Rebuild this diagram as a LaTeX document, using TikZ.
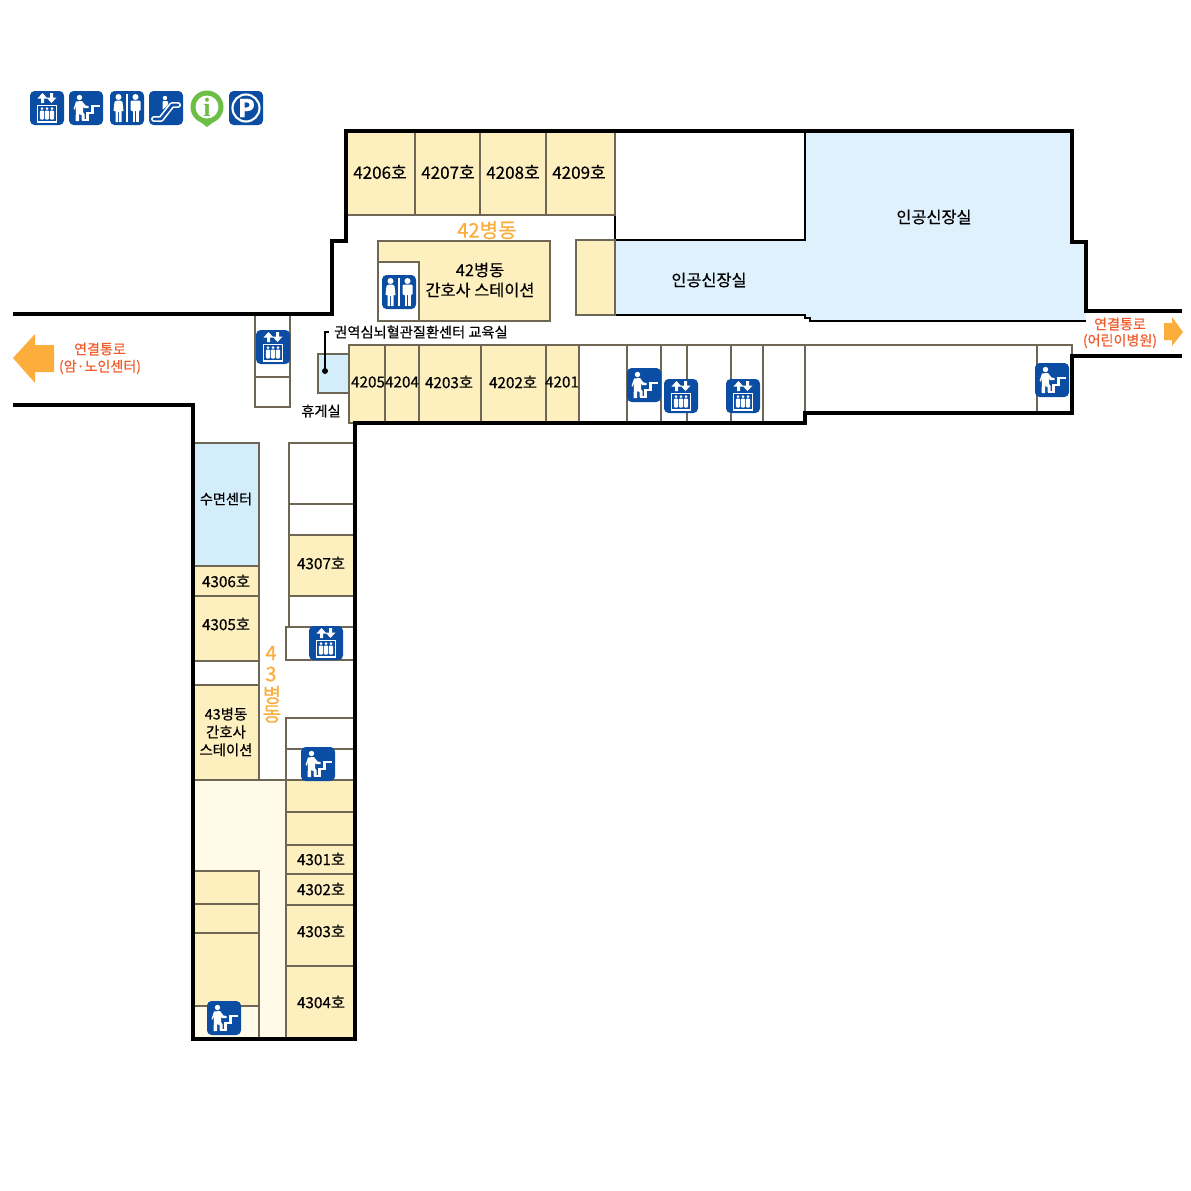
\documentclass[tikz,border=0pt]{standalone}
\usepackage{fontspec}
\setmainfont[FakeBold=0.35]{Noto Sans CJK KR}
\newfontfamily\serifi{Liberation Serif}
\usepackage{tikz}
\definecolor{wardYellow}{HTML}{FDEFBE}
\definecolor{paleYellow}{HTML}{FFFBE8}
\definecolor{dialBlue}{HTML}{DFF1FC}
\definecolor{sleepBlue}{HTML}{D3EDFB}
\definecolor{iconBlue}{HTML}{0B4DA2}
\definecolor{iconGreen}{HTML}{6CBE45}
\definecolor{wardOrange}{HTML}{FBAE3C}
\definecolor{linkRed}{HTML}{F15A29}
\definecolor{roomLine}{HTML}{6E6756}
\newcommand{\sz}[1]{\fontsize{#1}{#1}\selectfont}
\tikzset{
   iconBack/.style={fill=iconBlue, rounded corners=2.6pt},
   lean/.style={fill=white, draw=none},
   liftIcon/.pic={
        \fill[iconBack] (-17,-17) rectangle (17,17);
        \fill[lean] (-6,-5) -- (-6,-9.5) -- (-9.5,-9.5) -- (-4.5,-15) -- (0.5,-9.5) -- (-3,-9.5) -- (-3,-5) -- cycle;
        \fill[lean] (3,-15) -- (3,-10.5) -- (-0.5,-10.5) -- (4.5,-5) -- (9.5,-10.5) -- (6,-10.5) -- (6,-15) -- cycle;
        \draw[white, line width=0.9pt] (-9.5,-2.5) rectangle (9.5,14);
        \foreach \px in {-5,0,5} {
            \fill[lean] (\px,0.5) circle (1.5);
            \fill[lean, rounded corners=0.5pt] (\px-2.1,2.5) rectangle (\px+2.1,11.5);
        }
   },
   stairIcon/.pic={
        \fill[iconBack] (-17,-17) rectangle (17,17);
        \fill[lean] (-6.5,-10.5) circle (2.7);
        \fill[lean] (-12.5,1) -- (-10,-6.5) -- (-4,-7) -- (-0.5,-2.5) -- (2.5,-2) -- (2.5,0) -- (-2,0) -- (-3,-2) -- (-3,4) -- (-1.5,6) -- (-1.5,12) -- (-4.5,12) -- (-4.5,7) -- (-7,6) -- (-7,13) -- (-10.5,13) -- (-10,1) -- (-10,-2) -- (-11,1.5) -- cycle;
        \draw[white, line width=1.6pt] (-4,12) -- (1.5,12) -- (1.5,5) -- (6.5,5) -- (6.5,-2) -- (13.5,-2);
   },
   toiletIcon/.pic={
        \fill[iconBack] (-17,-17) rectangle (17,17);
        \fill[lean] (-8.5,-11) circle (3);
        \fill[lean] (-10.5,-7.5) -- (-6.5,-7.5) -- (-4.5,-6) -- (-3.5,3) -- (-5.5,3) -- (-5.5,14) -- (-8,14) -- (-8,4) -- (-9,4) -- (-9,14) -- (-11.5,14) -- (-11.5,3) -- (-13.5,3) -- (-12.5,-6) -- cycle;
        \fill[lean] (-0.6,-14) rectangle (0.6,14);
        \fill[lean] (8.5,-11) circle (3);
        \fill[lean, rounded corners=0.7pt] (3.5,-7.5) rectangle (13.5,3);
        \fill[lean] (5.5,0) rectangle (8,14);
        \fill[lean] (9,0) rectangle (11.5,14);
   },
   escalIcon/.pic={
        \fill[iconBack] (-17,-17) rectangle (17,17);
        \fill[lean] (-1,-10) circle (2.2);
        \fill[lean, rounded corners=0.5pt] (-3.5,-7) -- (2,-7) -- (2,-3) -- (-3.5,2) -- cycle;
        \draw[white, line width=3.4pt, line join=round, line cap=round] (-12,11) -- (-5,11) -- (6,-3) -- (12,-3);
        \draw[iconBlue, line width=1.5pt, line join=round, line cap=round] (-12,11) -- (-5,11) -- (6,-3) -- (12,-3);
   },
   infoIcon/.pic={
        \fill[iconGreen] (0,0) circle (16.5);
        \fill[iconGreen] (-9,13) -- (0,20) -- (9,13) -- cycle;
        \fill[white] (0,0) circle (11.5);
        \node[text=iconGreen, inner sep=0pt, font=\serifi\bfseries\sz{15}] (infoMark) at (0,0) {i};
   },
   parkIcon/.pic={
        \fill[iconBack] (-17,-17) rectangle (17,17);
        \draw[white, line width=1.2pt] (0,0) circle (13.5);
        \node[text=white, inner sep=0pt, font=\bfseries\sz{14}] (parkMark) at (0.5,0) {P};
   },
}
\begin{document}
\begin{tikzpicture}[x=0.02cm, y=-0.02cm, line join=miter]
        \tikzset{
           room/.style={
                        draw=roomLine,
                        line width=0.8pt,
                        fill=wardYellow
                       },
           blank/.style={
                        draw=roomLine,
                        line width=0.8pt,
                        fill=white
                       },
           wall/.style={
                        draw=black,
                        line width=1.9pt
                       },
           tag/.style={
                        text=black,
                        inner sep=0pt,
                        font=\sz{8.7}
                       },
           bigtag/.style={
                        text=black,
                        inner sep=0pt,
                        font=\sz{9.3}
                       },
           linktag/.style={
                        text=linkRed,
                        inner sep=0pt,
                        font=\sz{8}
                       },
           wardtag/.style={
                        text=wardOrange,
                        inner sep=0pt,
                        font=\sz{11.5}
                       },
                 };
        \useasboundingbox (0,0) rectangle (1191,1191);
        \fill[white] (0,0) rectangle (1191,1191);
        %----------------
        % dialysis rooms and floor of ward 43
        \fill[dialBlue] (805,131) -- (1072,131) -- (1072,242) -- (1086,242) -- (1086,321) -- (810,321) -- (810,318) -- (805,318) -- (805,315) -- (615,315) -- (615,240) -- (805,240) -- cycle;
        \draw[black, line width=0.6pt] (615,131) -- (615,315) -- (805,315) -- (805,318) -- (810,318) -- (810,321) -- (1086,321);
        \draw[black, line width=0.6pt] (615,240) -- (805,240) -- (805,131);
        \fill[paleYellow] (193,780) rectangle (286,1039);
        %----------------
        % ward 42, top row
        \draw[room] (346,131) rectangle (415,215);
        \draw[room] (415,131) rectangle (480,215);
        \draw[room] (480,131) rectangle (546,215);
        \draw[room] (546,131) rectangle (615,215);
        \draw[room] (576,240) rectangle (615,315);
        \draw[room] (378,241) rectangle (550,321);
        \draw[blank] (378,262) rectangle (419,321);
        %----------------
        % ward 42, bottom row
        \draw[room] (349,345) rectangle (385,423);
        \draw[room] (385,345) rectangle (419,423);
        \draw[room] (419,345) rectangle (481,423);
        \draw[room] (481,345) rectangle (546,423);
        \draw[room] (546,345) rectangle (579,423);
        \draw[blank] (579,345) rectangle (805,423);
        \draw[blank] (805,345) rectangle (1072,413);
        \draw[blank, fill=sleepBlue] (318,354) rectangle (349,393);
        \draw[blank] (255,314) rectangle (290,407);
        \draw[blank] (255,377) -- (290,377);
        \foreach \wx in {627,661,687,731,763,1037} {
            \draw[blank] (\wx,345) -- (\wx,413);
        }
        \foreach \wx in {627,661,687,731,763} {
            \draw[blank] (\wx,413) -- (\wx,423);
        }
        %----------------
        % ward 43, left side
        \draw[room, fill=sleepBlue] (193,443) rectangle (259,566);
        \draw[room] (193,566) rectangle (259,596);
        \draw[room] (193,596) rectangle (259,661);
        \draw[blank] (193,661) rectangle (259,685);
        \draw[room] (193,685) rectangle (259,780);
        \draw[blank] (193,780) -- (286,780);
        \draw[room] (193,871) rectangle (259,904);
        \draw[room] (193,904) rectangle (259,933);
        \draw[room] (193,933) rectangle (259,1006);
        \draw[blank, fill=paleYellow] (193,1006) rectangle (259,1039);
        %----------------
        % ward 43, right side
        \draw[blank] (289,443) rectangle (355,504);
        \draw[blank] (289,504) rectangle (355,535);
        \draw[room] (289,535) rectangle (355,596);
        \draw[blank] (289,596) rectangle (355,627);
        \draw[blank] (286,627) rectangle (355,660);
        \draw[blank] (286,718) rectangle (355,749);
        \draw[blank] (286,749) rectangle (355,780);
        \draw[room] (286,780) rectangle (355,812);
        \draw[room] (286,812) rectangle (355,845);
        \draw[room] (286,845) rectangle (355,874);
        \draw[room] (286,874) rectangle (355,905);
        \draw[room] (286,905) rectangle (355,966);
        \draw[room] (286,966) rectangle (355,1039);
        %----------------
        % outer walls
        \draw[wall] (13,314) -- (332,314) -- (332,241) -- (346,241) -- (346,131) -- (1072,131) -- (1072,242) -- (1086,242) -- (1086,311) -- (1182,311);
        \draw[wall] (1182,356) -- (1072,356) -- (1072,413) -- (805,413) -- (805,423) -- (355,423) -- (355,1039) -- (193,1039) -- (193,405) -- (13,405);
        %----------------
        % link arrows
        \fill[wardOrange] (13,358) -- (35,334) -- (35,345) -- (54,345) -- (54,372) -- (35,372) -- (35,383) -- cycle;
        \fill[wardOrange] (1164,323) -- (1172,323) -- (1172,317) -- (1183,332) -- (1172,346) -- (1172,340) -- (1164,340) -- cycle;
        %----------------
        \node[bigtag, font=\sz{9.7}] (r4206) at (380,172) {4206호};
        \node[bigtag, font=\sz{9.7}] (r4207) at (448,172) {4207호};
        \node[bigtag, font=\sz{9.7}] (r4208) at (513,172) {4208호};
        \node[bigtag, font=\sz{9.7}] (r4209) at (579,172) {4209호};
        \node[wardtag] (ward42) at (487,230) {42병동};
        \node[bigtag, align=center] (station42) at (480,280) {42병동\\[2.1pt]간호사 스테이션};
        \node[bigtag] (dialysisA) at (934,217) {인공신장실};
        \node[bigtag] (dialysisB) at (709,280) {인공신장실};
        \node[tag, font=\sz{8.1}] (eduRoom) at (421,332) {권역심뇌혈관질환센터 교육실};
        \node[tag, font=\sz{8.1}] (restRoom) at (321,411) {휴게실};
        \node[tag] (r4205) at (368,382) {4205};
        \node[tag] (r4204) at (402,382) {4204};
        \node[tag] (r4203) at (449,382) {4203호};
        \node[tag] (r4202) at (513,382) {4202호};
        \node[tag] (r4201) at (562,382) {4201};
        \node[tag, font=\sz{8.1}] (sleepRoom) at (226,499) {수면센터};
        \node[tag] (r4306) at (226,581) {4306호};
        \node[tag] (r4305) at (226,624) {4305호};
        \node[tag] (r4307) at (321,563) {4307호};
        \node[tag, font=\sz{8.2}, align=center] (station43) at (226,732) {43병동\\[2pt]간호사\\[2pt]스테이션};
        \node[tag] (r4301) at (321,859) {4301호};
        \node[tag] (r4302) at (321,889) {4302호};
        \node[tag] (r4303) at (321,931) {4303호};
        \node[tag] (r4304) at (321,1002) {4304호};
        \node[wardtag] (ward43a) at (271,653) {4};
        \node[wardtag] (ward43b) at (271,674) {3};
        \node[wardtag] (ward43c) at (272,695) {병};
        \node[wardtag] (ward43d) at (272,714) {동};
        \node[linktag] (linkL) at (100,349) {연결통로};
        \node[linktag] (linkLb) at (100,367) {(암·노인센터)};
        \node[linktag] (linkR) at (1120,324) {연결통로};
        \node[linktag] (linkRb) at (1120,341) {(어린이병원)};
        %----------------
        % leader of the education room
        \coordinate (eduDot) at (325,371);
        \coordinate (eduBend) at (325,332);
        \fill (eduDot) circle (3);
        \draw[black, line width=0.6pt] (eduDot) -- (eduBend) -- ([xshift=-3]eduRoom.west);
        %----------------
        \pic (legendLift) at (47,108) {liftIcon};
        \pic (legendStair) at (86,108) {stairIcon};
        \pic (legendToilet) at (127,108) {toiletIcon};
        \pic (legendEscal) at (166,108) {escalIcon};
        \pic (legendInfo) at (207,107) {infoIcon};
        \pic (legendPark) at (246,108) {parkIcon};
        \pic (toilet42) at (399,292) {toiletIcon};
        \pic (liftA) at (273,347) {liftIcon};
        \pic (liftB) at (681,396) {liftIcon};
        \pic (liftC) at (743,396) {liftIcon};
        \pic (liftD) at (326,643) {liftIcon};
        \pic (stairA) at (644,385) {stairIcon};
        \pic (stairB) at (1052,380) {stairIcon};
        \pic (stairC) at (318,764) {stairIcon};
        \pic (stairD) at (224,1018) {stairIcon};
    \end{tikzpicture}
\end{document}
